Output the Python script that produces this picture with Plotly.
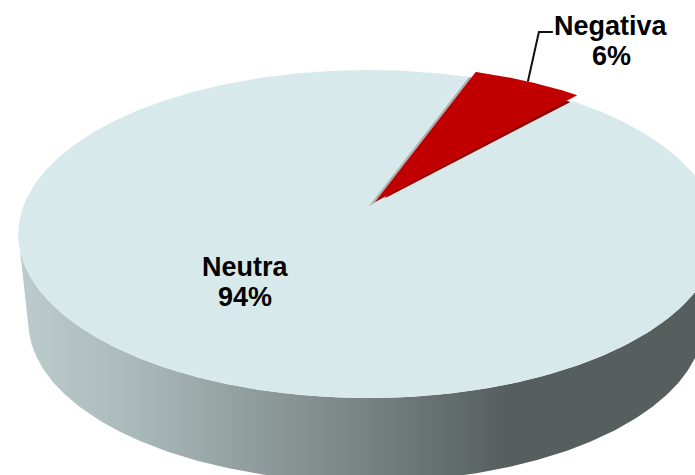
import numpy as np
import plotly.graph_objects as go

categories = ["Neutra", "Negativa"]
shares = [94, 6]
label_pos = [(245, 267), (611, 26)]

W, H = 695, 475
NEUTRA_TOP, RED_TOP, RED_SIDE, CUT_FACE = "#D8E9EB", "#C00000", "#8B0000", "#A9B5B5"
START_DEG = 19.6          # angle at which the small slice begins
P = 0.1646                # perspective strength
TOP = dict(x0=368, y0=207, ax=345, ay=159.6)
BASE = dict(x0=366, y0=295.7, ax=333, ay=155.7)
EXPLODE = (7, -5)
RIM_SHIFT = 9
OVERLAP_DEG = -0.5
WIDEST_DEG = 99.5         # where the perspective disc is widest


def project(deg, disc):
    t = np.radians(np.asarray(deg, dtype=float))
    u, v = np.sin(t), np.cos(t)
    w = 1 + P * v
    return disc["x0"] + disc["ax"] * u / w, disc["y0"] - disc["ay"] * v / w


def sector(d0, d1, disc, shift=(0, 0), n=200):
    x, y = project(np.linspace(d0, d1, n), disc)
    return (np.r_[disc["x0"], x, disc["x0"]] + shift[0],
            np.r_[disc["y0"], y, disc["y0"]] + shift[1])


def poly(x, y, color):
    return go.Scatter(x=x, y=y, mode="lines", fill="toself", fillcolor=color,
                      line=dict(width=0), hoverinfo="skip", showlegend=False)


red_span = shares[1] / sum(shares) * 360
t0, t1 = START_DEG, START_DEG + red_span
mid = (t0 + t1) / 2

fig = go.Figure()

# outer wall with horizontal shading
bx, by = project(np.linspace(WIDEST_DEG, 360 - WIDEST_DEG, 300), BASE)
tx, ty = project(np.linspace(360 - WIDEST_DEG, WIDEST_DEG, 300), TOP)
wall_x, wall_y = np.r_[bx, tx], np.r_[by, ty]
fig.add_trace(go.Scatter(
    x=wall_x, y=wall_y, mode="lines", fill="toself", line=dict(width=0),
    hoverinfo="skip", showlegend=False,
    fillgradient=dict(type="horizontal", colorscale=[
        [0.0, "#BCCBCB"], [0.17, "#A9B8B9"], [0.45, "#7F8A8A"],
        [0.70, "#565E5E"], [1.0, "#565E5E"]]),
))

# cut face of the large slice, seen through the gap left by the small slice
cx, cy = sector(t0, t1 - 3, TOP)
fig.add_trace(poly(cx, cy, CUT_FACE))

# thickness of the small slice
sx, sy = sector(t0, t1, TOP, (EXPLODE[0], EXPLODE[1] + RIM_SHIFT))
fig.add_trace(poly(sx, sy, RED_SIDE))

# large slice
nx, ny = sector(t1 - OVERLAP_DEG, t0 + 360, TOP, n=500)
fig.add_trace(poly(nx, ny, NEUTRA_TOP))

# small slice
rx, ry = sector(t0, t1, TOP, EXPLODE)
fig.add_trace(poly(rx, ry, RED_TOP))

# leader line from the rim of the small slice to its label
mx, my = project(mid, TOP)
mx, my = mx + EXPLODE[0], my + EXPLODE[1]
fig.add_trace(go.Scatter(x=[mx, mx + 11, mx + 25], y=[my, 32, 32], mode="lines",
                         line=dict(color="#111111", width=2), hoverinfo="skip",
                         showlegend=False))

for name, share, (lx, ly) in zip(categories, shares, label_pos):
    for text, yy in ((name, ly), (f"{share}%", ly + 30)):
        fig.add_annotation(x=lx, y=yy, text=f"<b>{text}</b>", showarrow=False,
                           xanchor="center", yanchor="middle",
                           font=dict(family="Liberation Sans, Arial, sans-serif",
                                     size=27, color="#000000"))

fig.update_layout(
    width=W, height=H, margin=dict(l=0, r=0, t=0, b=0),
    paper_bgcolor="white", plot_bgcolor="white", showlegend=False,
    xaxis=dict(range=[0, W], visible=False, fixedrange=True),
    yaxis=dict(range=[H, 0], visible=False, fixedrange=True),
)
fig.write_html("out.html", config={"displayModeBar": False},
               post_script="document.body.style.margin='0';document.body.style.overflow='hidden';")
